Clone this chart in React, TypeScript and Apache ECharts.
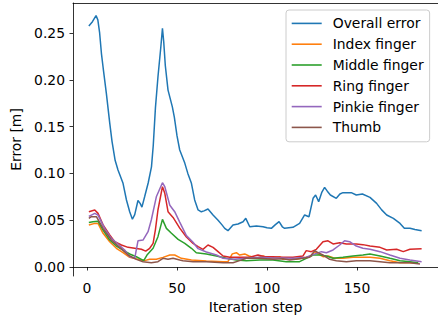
import React, { useEffect, useRef } from "react";
import * as echarts from "echarts";

const seriesNames = ["Overall error", "Index finger", "Middle finger", "Ring finger", "Pinkie finger", "Thumb"];
const seriesColors = ["#1f77b4", "#ff7f0e", "#2ca02c", "#d62728", "#9467bd", "#8c564b"];
const xTicks = [0, 50, 100, 150];
const yTicks = [0, 0.05, 0.1, 0.15, 0.2, 0.25];

const overallError = [[1,0.2575],[3,0.262],[5,0.2685],[6,0.264],[7,0.25],[8,0.228],[9,0.212],[10.7,0.186],[12.6,0.154],[13.9,0.134],[15.6,0.114],[17.2,0.1036],[20,0.0894],[21.9,0.0716],[23.7,0.059],[25.2,0.051],[26.5,0.056],[28.3,0.071],[29.5,0.068],[30.5,0.064],[32,0.075],[34,0.09],[35.8,0.107],[36.8,0.13],[38,0.17],[39.4,0.203],[41,0.235],[41.9,0.255],[42.6,0.2407],[43.5,0.215],[45,0.189],[47.4,0.171],[48.5,0.16],[50,0.14],[51.5,0.125],[54.3,0.111],[56,0.1],[58,0.0894],[59.8,0.0716],[61.7,0.061],[63.5,0.059],[65,0.06],[67.2,0.062],[70,0.0556],[72.8,0.05],[75,0.045],[76.5,0.0413],[78.3,0.0388],[81.1,0.0449],[83.9,0.046],[86.7,0.0484],[88.2,0.052],[90.4,0.043],[94.1,0.0438],[97.8,0.043],[100,0.042],[102.4,0.0413],[104.5,0.045],[106.7,0.0484],[108.5,0.043],[109.8,0.0413],[114.4,0.0424],[118.1,0.0466],[120.9,0.0556],[123.3,0.0537],[125.6,0.0734],[127,0.0769],[128.7,0.0698],[130.5,0.08],[132,0.0851],[133.5,0.081],[135.2,0.0769],[138.5,0.0734],[140.5,0.078],[142.2,0.0794],[146.8,0.0794],[149.6,0.0769],[153,0.078],[157.2,0.0744],[160.9,0.068],[163.7,0.061],[166.5,0.0556],[170.2,0.052],[173.9,0.0466],[176.3,0.0413],[179.4,0.0413],[182.2,0.04],[185.9,0.0388]];

const indexFinger = [[1,0.0449],[4.3,0.0466],[6.1,0.0466],[8.9,0.036],[12.6,0.027],[16.3,0.02],[20,0.0153],[23.7,0.0103],[28.3,0.0082],[32,0.0068],[34.8,0.0082],[38.5,0.0082],[42.2,0.0103],[46,0.0128],[48.7,0.0128],[52.4,0.0093],[58,0.0075],[66.3,0.0064],[75.6,0.0057],[78.3,0.0057],[80.7,0.014],[83,0.0153],[84.8,0.0128],[87.6,0.014],[90,0.0118],[94.1,0.0093],[97.8,0.0118],[101.5,0.0093],[107,0.011],[108.9,0.0082],[116.3,0.0082],[121.8,0.0104],[124.6,0.0118],[126.5,0.0164],[128.3,0.014],[131.1,0.011],[133.9,0.0118],[137.6,0.0093],[142.2,0.0093],[147.8,0.0104],[153.3,0.0104],[157.2,0.0104],[162.8,0.0093],[168.3,0.0068],[173.9,0.0046],[179.4,0.0046],[184,0.004]];

const middleFinger = [[1,0.0475],[3.3,0.0484],[6.1,0.049],[8.9,0.0395],[12.6,0.0288],[16.3,0.0224],[20,0.018],[23.7,0.0139],[27.4,0.011],[31.5,0.0068],[33.3,0.0128],[36.7,0.02],[39.4,0.0324],[41.9,0.0509],[44.1,0.0413],[46.9,0.036],[50.6,0.0295],[54.3,0.0253],[58,0.02],[60.7,0.0153],[66.3,0.014],[71.9,0.0118],[77.4,0.0093],[83,0.0075],[88.5,0.0068],[95.9,0.0075],[103.3,0.0075],[110.7,0.0057],[118.1,0.0057],[121.8,0.0093],[125.6,0.0128],[129.3,0.0128],[133,0.0118],[136.7,0.0093],[142.2,0.0104],[147.8,0.0118],[153.3,0.0128],[157.2,0.0139],[162.8,0.0118],[168.3,0.0093],[173.9,0.0068],[179.4,0.0057],[184,0.0046]];

const ringFinger = [[1,0.0591],[4.3,0.0609],[6.1,0.0573],[8.9,0.045],[12.6,0.0342],[15.4,0.027],[19.1,0.0235],[22.8,0.021],[26.5,0.02],[30.2,0.0189],[32.6,0.017],[34.8,0.02],[36.7,0.0253],[38,0.04],[39.4,0.0609],[41.9,0.0858],[43.2,0.0787],[45,0.0591],[47.8,0.053],[51.5,0.0415],[55.2,0.032],[58.9,0.0252],[61.7,0.0217],[64.4,0.0189],[67.2,0.0235],[70,0.021],[72.8,0.0164],[75.6,0.0118],[79.3,0.0104],[84.8,0.0104],[90.4,0.0104],[95,0.0128],[98.7,0.011],[103.3,0.011],[108.9,0.0104],[114.4,0.0104],[120,0.0118],[121.8,0.0175],[124.6,0.0164],[127.4,0.0189],[131.1,0.027],[133.9,0.028],[136.7,0.0246],[140.4,0.026],[144.1,0.0246],[149.6,0.0246],[153.3,0.0239],[157.2,0.0224],[162.8,0.021],[166.5,0.0182],[172,0.0189],[175.7,0.0164],[179.4,0.0189],[185.9,0.0196]];

const pinkieFinger = [[1,0.054],[2.4,0.0555],[4.3,0.0573],[6.1,0.0555],[9.8,0.0413],[13.5,0.0306],[17.2,0.0246],[20.9,0.0182],[23.7,0.011],[26.5,0.0093],[28.3,0.028],[31.1,0.0288],[33.9,0.0377],[35.7,0.0502],[38.5,0.075],[41.9,0.09],[43.2,0.0858],[46,0.066],[48.7,0.0591],[51.5,0.048],[55.2,0.0335],[58.9,0.0264],[61.7,0.0196],[66.3,0.016],[71.9,0.0128],[75.6,0.0093],[81.1,0.0082],[88.5,0.0093],[95.9,0.0104],[103.3,0.0095],[108.9,0.0095],[114.4,0.0093],[121.8,0.0104],[127.4,0.0146],[130.2,0.0164],[133,0.0153],[136.7,0.0182],[140.4,0.0235],[143.1,0.028],[145.9,0.027],[149.6,0.0224],[153.3,0.02],[157.2,0.0189],[162.8,0.0164],[168.3,0.0128],[173.9,0.0093],[179.4,0.0075],[185.9,0.0057]];

const thumb = [[1,0.052],[2.4,0.0537],[5.2,0.0537],[8.9,0.0413],[13.5,0.0288],[18.1,0.021],[22.8,0.0128],[27.4,0.0082],[31.1,0.0057],[35.7,0.0046],[39.4,0.0057],[42.2,0.0093],[45,0.0082],[47.8,0.0093],[51.5,0.0075],[53.3,0.0068],[58.9,0.0057],[66.3,0.0057],[75.6,0.0046],[81.1,0.0046],[84.8,0.0068],[88.5,0.0093],[92.2,0.0093],[95.9,0.0093],[103.3,0.0082],[108.9,0.0088],[112.6,0.0075],[120,0.0093],[123.7,0.0104],[126.5,0.0175],[128.3,0.0153],[131.1,0.0128],[134.8,0.0082],[138.5,0.0068],[144.1,0.0057],[149.6,0.0068],[153.3,0.0068],[157.2,0.0068],[162.8,0.0057],[168.3,0.0046],[173.9,0.0046],[179.4,0.0046],[185,0.0032]];

const allData = [overallError, indexFinger, middleFinger, ringFinger, pinkieFinger, thumb];

const FONT = "DejaVu Sans";
const FS = 13.9;

export default function App() {
  const ref = useRef<HTMLDivElement>(null);
  useEffect(() => {
    if (!ref.current) return;
    const chart = echarts.init(ref.current, null, { renderer: "svg" });
    const axisLineStyle = { color: "#000", width: 0.8 };
    chart.setOption({
      animation: false,
      backgroundColor: "#fff",
      textStyle: { fontFamily: FONT },
      grid: { left: 73, right: 0, top: 3, bottom: 44, containLabel: false },
      legend: {
        orient: "vertical",
        left: 286,
        top: 10,
        padding: [3, 6, 4, 5.7],
        itemGap: 0,
        itemWidth: 30,
        itemHeight: 1.6,
        icon: "rect",
        backgroundColor: "rgba(255,255,255,0.8)",
        borderColor: "#cccccc",
        borderWidth: 1,
        borderRadius: 3,
        textStyle: { fontFamily: FONT, fontSize: FS, color: "#000", lineHeight: 20.8, padding: [0, 0, 0, 6] },
        data: seriesNames,
      },
      xAxis: [
        {
          type: "value",
          min: -7.8,
          max: 195,
          name: "Iteration step",
          nameLocation: "middle",
          nameGap: 22,
          nameTextStyle: { fontFamily: FONT, fontSize: FS, color: "#000" },
          axisLine: { show: true, lineStyle: axisLineStyle },
          axisTick: { show: true, length: 3.5, lineStyle: axisLineStyle, customValues: xTicks },
          axisLabel: { show: true, margin: 5, fontFamily: FONT, fontSize: FS, color: "#000", customValues: xTicks },
          splitLine: { show: false },
        },
        {
          type: "value",
          position: "top",
          min: -7.8,
          max: 195,
          axisLine: { show: true, onZero: false, lineStyle: axisLineStyle },
          axisTick: { show: false },
          axisLabel: { show: false },
          splitLine: { show: false },
        },
      ],
      yAxis: {
        type: "value",
        min: -0.0096,
        max: 0.282,
        name: "Error [m]",
        nameLocation: "middle",
        nameGap: 39,
        nameTextStyle: { fontFamily: FONT, fontSize: FS, color: "#000" },
        axisLine: { show: true, onZero: false, lineStyle: axisLineStyle },
        axisTick: { show: true, length: 3.5, lineStyle: axisLineStyle, customValues: yTicks },
        axisLabel: {
          show: true,
          margin: 8,
          fontFamily: FONT,
          fontSize: FS,
          color: "#000",
          customValues: yTicks,
          formatter: (v: number) => v.toFixed(2),
        },
        splitLine: { show: false },
      },
      series: allData.map((d, i) => ({
        name: seriesNames[i],
        type: "line",
        xAxisIndex: 0,
        data: d,
        symbol: "none",
        showSymbol: false,
        color: seriesColors[i],
        lineStyle: { color: seriesColors[i], width: 1.5 },
        itemStyle: { color: seriesColors[i] },
        z: 2 + i,
      })),
    });
    return () => chart.dispose();
  }, []);
  return <div ref={ref} style={{ position: "fixed", left: 0, top: 0, width: 438, height: 320 }} />;
}
